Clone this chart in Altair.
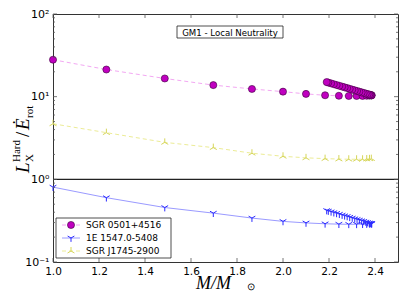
import altair as alt
import pandas as pd

# ---------------- data ----------------
series_names = ["SGR 0501+4516", "1E 1547.0-5408", "SGR J1745-2900"]

mass_lower = [1.0, 1.232, 1.486, 1.697, 1.865, 2.0, 2.10, 2.183, 2.243, 2.286,
              2.32, 2.346, 2.364, 2.376, 2.384]
mass_upper = [2.386, 2.384, 2.380, 2.375, 2.368, 2.360, 2.351, 2.342, 2.332, 2.322,
              2.312, 2.301, 2.290, 2.279, 2.268, 2.257, 2.245, 2.233, 2.221, 2.209,
              2.197, 2.19]

sgr0501_lower = [28.0, 21.3, 16.6, 13.8, 12.4, 11.5, 10.8, 10.4, 10.25, 10.2,
                 10.2, 10.2, 10.25, 10.3, 10.35]
sgr0501_upper = [10.38, 10.42, 10.5, 10.6, 10.74, 10.91, 11.09, 11.28, 11.49, 11.71,
                 11.93, 12.18, 12.43, 12.70, 12.96, 13.23, 13.53, 13.84, 14.15, 14.47,
                 14.8, 15.0]

e1547_lower = [0.805, 0.60, 0.456, 0.39, 0.34, 0.31, 0.297, 0.29, 0.287, 0.286,
               0.286, 0.287, 0.288, 0.29, 0.291]
e1547_upper = [0.291, 0.292, 0.294, 0.297, 0.301, 0.305, 0.311, 0.316, 0.322, 0.328,
               0.334, 0.341, 0.348, 0.356, 0.363, 0.370, 0.379, 0.388, 0.396, 0.405,
               0.414, 0.42]

j1745_lower = [4.7, 3.67, 2.8, 2.42, 2.07, 1.9, 1.82, 1.78, 1.76, 1.75,
               1.75, 1.75, 1.76, 1.77, 1.78]

title_text = "GM1 - Local Neutrality"
ref_level = [1.0]

x_ticks = [1.0, 1.2, 1.4, 1.6, 1.8, 2.0, 2.2, 2.4]
y_major = [0.1, 1.0, 10.0, 100.0]
y_minor = [0.2, 0.3, 0.4, 0.5, 0.6, 0.7, 0.8, 0.9,
           2, 3, 4, 5, 6, 7, 8, 9,
           20, 30, 40, 50, 60, 70, 80, 90]

# ---------------- tables ----------------
def table(name, masses, values):
    return pd.DataFrame({"mass": masses, "value": values, "series": name,
                         "order": list(range(len(masses)))})

df_m = table(series_names[0], mass_lower + mass_upper, sgr0501_lower + sgr0501_upper)
df_b = table(series_names[1], mass_lower + mass_upper, e1547_lower + e1547_upper)
df_y = table(series_names[2], mass_lower, j1745_lower)

W, H = 345, 248
xs = alt.Scale(domain=[1.0, 2.5], nice=False, zero=False)
ys = alt.Scale(type="log", domain=[0.1, 100], nice=False)

x_axis = alt.Axis(values=x_ticks, format=".1f", ticks=False, domain=False, grid=False,
                  labelFlush=False, labelPadding=4, labelFontSize=10.5,
                  labelFont="DejaVu Sans", labelColor="black", title=None)
y_axis = alt.Axis(values=y_major, ticks=False, domain=False, grid=False,
                  labelFlush=False, labelPadding=4, labelFontSize=11,
                  labelFont="DejaVu Sans", labelColor="black", title=None,
                  labelExpr="datum.value > 50 ? '10²' : datum.value > 5 ? '10¹' : datum.value > 0.5 ? '10⁰' : '10⁻¹'")

TRI_DOWN = "M0,0L0,1M0,0L-0.866,-0.5M0,0L0.866,-0.5"
TRI_UP = "M0,0L0,-1M0,0L-0.866,0.5M0,0L0.866,0.5"

MAG_LINE, MAG_FILL = "#f3a8f3", "#c000c0"
BLU_LINE, BLU_MARK = "#9a9aff", "#2a2aff"
YEL_LINE, YEL_MARK = "#ecec96", "#d6d65a"

def xe():
    return alt.X("mass:Q", scale=xs, axis=x_axis)

def ye():
    return alt.Y("value:Q", scale=ys, axis=y_axis)

layers = []

# reference line at 1
layers.append(alt.Chart(pd.DataFrame({"value": ref_level})).mark_rule(
    color="#222222", strokeWidth=1.3).encode(y=ye()))

# series lines
layers.append(alt.Chart(df_m).mark_line(color=MAG_LINE, strokeWidth=1, strokeDash=[4, 3])
              .encode(x=xe(), y=ye(), order="order:Q"))
layers.append(alt.Chart(df_y).mark_line(color=YEL_LINE, strokeWidth=1, strokeDash=[4, 3])
              .encode(x=xe(), y=ye(), order="order:Q"))
layers.append(alt.Chart(df_b).mark_line(color=BLU_LINE, strokeWidth=1)
              .encode(x=xe(), y=ye(), order="order:Q"))

# markers
layers.append(alt.Chart(df_m).mark_point(shape="circle", filled=True, fill=MAG_FILL,
                                         stroke="#3a003a", strokeWidth=0.6, size=50, opacity=1)
              .encode(x=xe(), y=ye()))
layers.append(alt.Chart(df_b).mark_point(shape=TRI_DOWN, filled=False, stroke=BLU_MARK,
                                         strokeWidth=1, size=60, opacity=1)
              .encode(x=xe(), y=ye()))
layers.append(alt.Chart(df_y).mark_point(shape=TRI_UP, filled=False, stroke=YEL_MARK,
                                         strokeWidth=1, size=64, opacity=1)
              .encode(x=xe(), y=ye()))

# inward ticks
tick_col = "#555555"
dfy_major = pd.DataFrame({"value": y_major})
dfy_minor = pd.DataFrame({"value": y_minor})
dfx_major = pd.DataFrame({"mass": x_ticks})
for d, ln in ((dfy_major, 4), (dfy_minor, 2)):
    layers.append(alt.Chart(d).mark_rule(color=tick_col, strokeWidth=0.8)
                  .encode(y=ye(), x=alt.value(0), x2=alt.value(ln)))
    layers.append(alt.Chart(d).mark_rule(color=tick_col, strokeWidth=0.8)
                  .encode(y=ye(), x=alt.value(W), x2=alt.value(W - ln)))
layers.append(alt.Chart(dfx_major).mark_rule(color=tick_col, strokeWidth=0.8)
              .encode(x=xe(), y=alt.value(H), y2=alt.value(H - 4)))
layers.append(alt.Chart(dfx_major).mark_rule(color=tick_col, strokeWidth=0.8)
              .encode(x=xe(), y=alt.value(0), y2=alt.value(4)))

one = pd.DataFrame({"a": [0]})

# title box
layers.append(alt.Chart(one).mark_rect(fill="white", stroke="#222222", strokeWidth=0.8)
              .encode(x=alt.value(124), x2=alt.value(230), y=alt.value(12), y2=alt.value(24)))
layers.append(alt.Chart(one).mark_text(font="DejaVu Sans", fontSize=8.6, color="black",
                                       align="center", baseline="middle")
              .encode(x=alt.value(177), y=alt.value(18.5), text=alt.value(title_text)))

# legend
layers.append(alt.Chart(one).mark_rect(fill="white", stroke="#222222", strokeWidth=0.8)
              .encode(x=alt.value(3), x2=alt.value(118), y=alt.value(204), y2=alt.value(244)))
row_y = [211, 224, 237]
line_cfg = [(MAG_LINE, [4, 3]), (BLU_LINE, None), (YEL_LINE, [4, 3])]
for i, name in enumerate(series_names):
    col, dash = line_cfg[i]
    kw = dict(color=col, strokeWidth=1)
    if dash:
        kw["strokeDash"] = dash
    layers.append(alt.Chart(one).mark_rule(**kw)
                  .encode(x=alt.value(9), x2=alt.value(27), y=alt.value(row_y[i])))
    if i == 0:
        mk = alt.Chart(one).mark_point(shape="circle", filled=True, fill=MAG_FILL,
                                        stroke="#3a003a", strokeWidth=0.6, size=50, opacity=1)
    elif i == 1:
        mk = alt.Chart(one).mark_point(shape=TRI_DOWN, filled=False, stroke=BLU_MARK,
                                        strokeWidth=1, size=60, opacity=1)
    else:
        mk = alt.Chart(one).mark_point(shape=TRI_UP, filled=False, stroke=YEL_MARK,
                                        strokeWidth=1, size=64, opacity=1)
    layers.append(mk.encode(x=alt.value(18), y=alt.value(row_y[i])))
    layers.append(alt.Chart(one).mark_text(font="DejaVu Sans", fontSize=9, color="black",
                                           align="left", baseline="middle")
                  .encode(x=alt.value(33), y=alt.value(row_y[i]), text=alt.value(name)))

# y-axis title: L_X^Hard / E-dot_rot (rotated)
ymid = 121
ybase = -24
ytitle = [
    ("L", 19, "italic", -38, 0),
    ("X", 11, "normal", -27, 4),
    ("Hard", 11, "normal", -27, -9),
    ("/", 19, "normal", -2, 0),
    ("Ė", 19, "italic", 5, 0),
    ("rot", 11, "normal", 17, 4),
]
for txt, fs, st, dx, dy in ytitle:
    layers.append(alt.Chart(one).mark_text(font="Liberation Serif", fontSize=fs, fontStyle=st,
                                           angle=270, align="left", baseline="alphabetic",
                                           dx=dx, dy=dy, color="black")
                  .encode(x=alt.value(ybase), y=alt.value(ymid), text=alt.value(txt)))

# x-axis title: M/M_sun
xbase = 275
xtitle = [
    ("M/M", 18, "italic", 143, 0),
    ("⊙", 10, "normal", 194, 1),
]
for txt, fs, st, xx, dy in xtitle:
    layers.append(alt.Chart(one).mark_text(font="Liberation Serif", fontSize=fs, fontStyle=st,
                                           align="left", baseline="alphabetic", dy=dy,
                                           color="black")
                  .encode(x=alt.value(xx), y=alt.value(xbase), text=alt.value(txt)))

chart = alt.layer(*layers).properties(
    width=W, height=H,
    autosize=alt.AutoSizeParams(type="none"),
    padding={"left": 45, "top": 6, "right": 9, "bottom": 31},
    background="white",
).configure_view(stroke="#333333", strokeWidth=1)

chart.save("out.html", embed_options={"renderer": "svg", "actions": False})
